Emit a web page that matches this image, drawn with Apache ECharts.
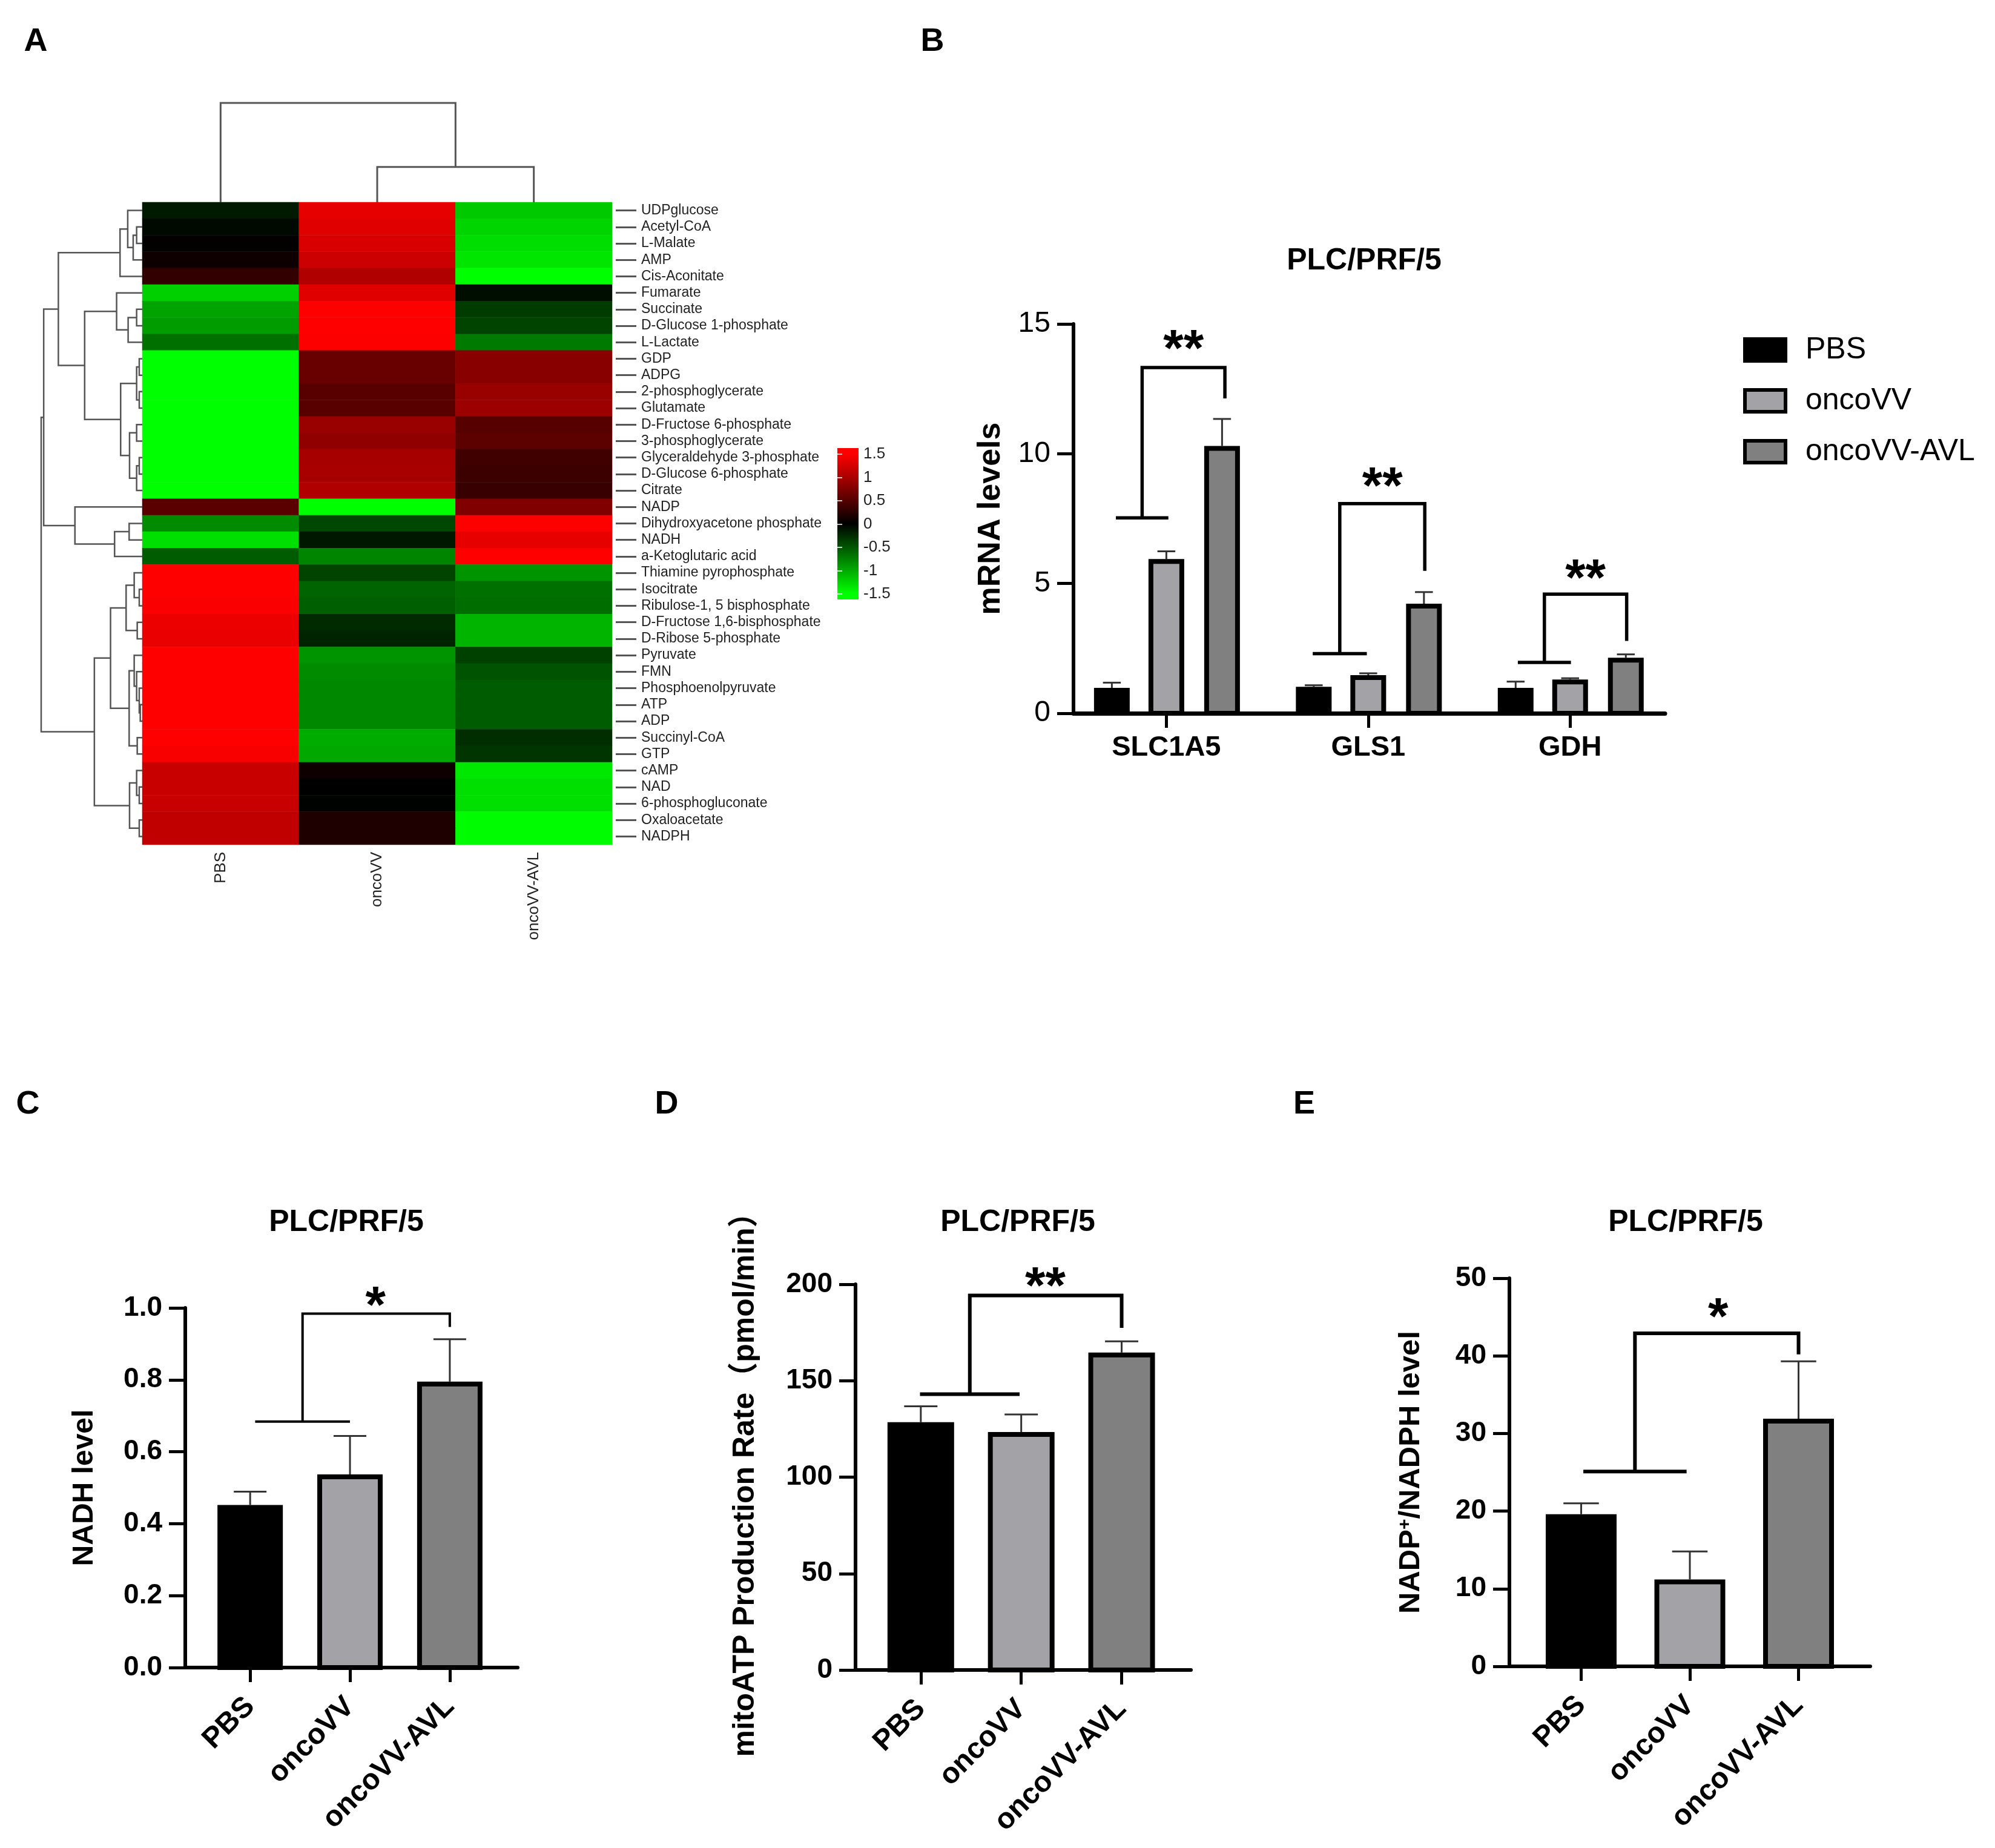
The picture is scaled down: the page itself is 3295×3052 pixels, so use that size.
<!DOCTYPE html>
<html>
<head>
<meta charset="utf-8">
<script src="https://cdn.jsdelivr.net/npm/echarts@6/dist/echarts.min.js"></script>
<style>
  html, body { margin: 0; background: #fff; }
  #main { width: 3295px; height: 3052px; }
</style>
</head>
<body>
<div id="main"></div>
<script>
var FONT = '"Liberation Sans", Arial, "Noto Sans CJK SC", sans-serif';

// ---- A: heatmap ----
var hmCols = ['PBS', 'oncoVV', 'oncoVV-AVL'];
var hmRows = ['UDPglucose', 'Acetyl-CoA', 'L-Malate', 'AMP', 'Cis-Aconitate', 'Fumarate', 'Succinate',
  'D-Glucose 1-phosphate', 'L-Lactate', 'GDP', 'ADPG', '2-phosphoglycerate', 'Glutamate',
  'D-Fructose 6-phosphate', '3-phosphoglycerate', 'Glyceraldehyde 3-phosphate', 'D-Glucose 6-phosphate',
  'Citrate', 'NADP', 'Dihydroxyacetone phosphate', 'NADH', 'a-Ketoglutaric acid', 'Thiamine pyrophosphate',
  'Isocitrate', 'Ribulose-1, 5 bisphosphate', 'D-Fructose 1,6-bisphosphate', 'D-Ribose 5-phosphate',
  'Pyruvate', 'FMN', 'Phosphoenolpyruvate', 'ATP', 'ADP', 'Succinyl-CoA', 'GTP', 'cAMP', 'NAD',
  '6-phosphogluconate', 'Oxaloacetate', 'NADPH'];
var hmPBS = [-0.15, -0.05, 0.02, 0.08, 0.3, -1.22, -0.96, -0.92, -0.66, -1.5, -1.5, -1.5, -1.5,
  -1.5, -1.5, -1.5, -1.5, -1.5, 0.53, -0.82, -1.32, -0.54, 1.5, 1.5, 1.47, 1.39, 1.38,
  1.5, 1.5, 1.5, 1.5, 1.5, 1.5, 1.46, 1.18, 1.18, 1.18, 1.13, 1.13];
var hmOncoVV = [1.35, 1.32, 1.27, 1.2, 1.04, 1.32, 1.5, 1.5, 1.48, 0.62, 0.61, 0.52, 0.52,
  0.9, 0.85, 0.98, 0.99, 1.04, -1.5, -0.42, -0.14, -0.78, -0.4, -0.59, -0.56, -0.25, -0.21,
  -0.87, -0.82, -0.8, -0.8, -0.8, -1.01, -0.99, 0.08, 0.0, -0.01, 0.18, 0.18];
var hmAVL = [-1.18, -1.25, -1.3, -1.35, -1.5, -0.08, -0.35, -0.4, -0.72, 0.8, 0.8, 0.9, 0.92,
  0.51, 0.55, 0.38, 0.35, 0.33, 0.75, 1.5, 1.36, 1.5, -0.87, -0.66, -0.64, -1.06, -1.06,
  -0.38, -0.49, -0.54, -0.54, -0.54, -0.27, -0.31, -1.36, -1.32, -1.32, -1.48, -1.48];
// hclust style merges: negative = leaf (row number), positive = earlier merge, then height
var rowMerges = [
  [-2, -3, 5.6], [1, -4, 9.0], [-1, 2, 14.4], [3, -5, 22.0],
  [-7, -8, 5.6], [5, -9, 14.0], [-6, 6, 25.4],
  [-10, -11, 3.0], [-12, -13, 3.0], [8, 9, 5.6], [-14, -15, 5.6], [-16, -17, 3.0], [12, -18, 5.6],
  [11, 13, 12.6], [10, 14, 21.4], [7, 15, 57.0], [4, 16, 83.0],
  [-20, -21, 13.0], [18, -22, 27.4], [-19, 19, 66.6],
  [-24, -25, 3.0], [-23, 21, 8.0], [-26, -27, 5.0], [22, 23, 16.0],
  [-31, -32, 2.0], [-30, 25, 3.0], [-29, 26, 5.6], [-28, 27, 8.0], [-33, -34, 5.0], [28, 29, 13.0], [24, 30, 31.4],
  [-36, -37, 3.0], [-35, 32, 5.6], [-38, -39, 3.0], [33, 34, 12.6], [31, 35, 47.4],
  [17, 20, 97.5], [37, 36, 100]
];
var colMerges = [[-2, -3, 27], [-1, 1, 76]];

// ---- B: mRNA ----
var bGenes = ['SLC1A5', 'GLS1', 'GDH'];
var bGroups = ['PBS', 'oncoVV', 'oncoVV-AVL'];
var bPBS = [0.98, 1.02, 0.98];
var bPBSErr = [0.2, 0.06, 0.24];
var bOnco = [5.94, 1.47, 1.3];
var bOncoErr = [0.3, 0.07, 0.05];
var bAVL = [10.3, 4.22, 2.14];
var bAVLErr = [1.04, 0.45, 0.13];
var bBrackets = [[-0.25, 0.01, 7.53, 13.32, 0.29, 12.13], [0.725, 0.993, 2.3, 8.08, 1.28, 5.49], [1.741, 2.004, 1.96, 4.59, 2.28, 2.79]];
var bStarText = ['**', '**', '**'];
var bStarPos = [[0.085, 14.49], [1.07, 9.19], [2.076, 5.65]];

// ---- C/D/E ----
var groups = ['PBS', 'oncoVV', 'oncoVV-AVL'];
var cMean = [0.452, 0.537, 0.795];
var cErr = [0.037, 0.107, 0.118];
var cBracket = [[0.05, 1.0, 0.684, 0.984, 2.0, 0.947]];
var cStarText = ['*'];
var cStarPos = [[1.256, 1.039]];
var dMean = [128.5, 123.4, 164.6];
var dErr = [8.2, 9.1, 5.8];
var dBracket = [[-0.008, 0.984, 143, 194.2, 2.0, 177.4]];
var dStarText = ['**'];
var dStarPos = [[1.24, 205]];
var eMean = [19.6, 11.2, 31.9];
var eErr = [1.4, 3.6, 7.4];
var eBracket = [[0.02, 0.97, 25.1, 42.9, 2.0, 40.2]];
var eStarText = ['*'];
var eStarPos = [[1.26, 46.5]];

var grpColors = ['#000000', '#a3a3a7', '#808080'];

function layoutTree(merges) {
  var nodes = [], segs = [];
  function child(ref) { return ref < 0 ? { pos: -ref, h: 0 } : nodes[ref - 1]; }
  merges.forEach(function (m) {
    var a = child(m[0]), b = child(m[1]);
    nodes.push({ pos: (a.pos + b.pos) / 2, h: m[2] });
    segs.push([a.h, a.pos, b.h, b.pos, m[2]]);
  });
  return segs;
}

function rowDendro(params, api) {
  var p1 = api.coord([api.value(0), api.value(1)]);
  var n1 = api.coord([api.value(4), api.value(1)]);
  var n2 = api.coord([api.value(4), api.value(3)]);
  var p2 = api.coord([api.value(2), api.value(3)]);
  return { type: 'polyline', shape: { points: [p1, n1, n2, p2] }, style: { stroke: '#555', lineWidth: 2.5, fill: null } };
}
function colDendro(params, api) {
  // x = position, y = height
  var p1 = api.coord([api.value(1), api.value(0)]);
  var n1 = api.coord([api.value(1), api.value(4)]);
  var n2 = api.coord([api.value(3), api.value(4)]);
  var p2 = api.coord([api.value(3), api.value(2)]);
  return { type: 'polyline', shape: { points: [p1, n1, n2, p2] }, style: { stroke: '#555', lineWidth: 3, fill: null } };
}

function barItem(bw, lw, offset, fills) {
  return function (params, api) {
    var x = api.value(0), v = api.value(1), e = api.value(2);
    var base = api.coord([x, 0]), top = api.coord([x, v]), et = api.coord([x, v + e]);
    var cx = base[0] + offset;
    var fill = fills[params.dataIndex % fills.length];
    return { type: 'group', children: [
      { type: 'line', shape: { x1: cx, y1: top[1], x2: cx, y2: et[1] }, style: { stroke: '#333', lineWidth: 3 } },
      { type: 'line', shape: { x1: cx - bw / 4, y1: et[1], x2: cx + bw / 4, y2: et[1] }, style: { stroke: '#333', lineWidth: 3 } },
      { type: 'rect', shape: { x: cx - (bw - lw) / 2, y: top[1] + lw / 2, width: bw - lw, height: base[1] - top[1] - lw / 2 },
        style: { fill: fill, stroke: '#000', lineWidth: lw } }
    ] };
  };
}

function bracketItem(lw) {
  return function (params, api) {
    var a = api.coord([api.value(0), api.value(2)]);
    var b = api.coord([api.value(1), api.value(2)]);
    var mid = api.coord([(api.value(0) + api.value(1)) / 2, api.value(3)]);
    var r = api.coord([api.value(4), api.value(5)]);
    return { type: 'group', children: [
      { type: 'line', shape: { x1: a[0], y1: a[1], x2: b[0], y2: b[1] }, style: { stroke: '#000', lineWidth: lw } },
      { type: 'polyline', shape: { points: [[mid[0], a[1]], [mid[0], mid[1]], [r[0], mid[1]], [r[0], r[1]]] },
        style: { stroke: '#000', lineWidth: lw, fill: null } }
    ] };
  };
}

function starItem(texts, size) {
  return function (params, api) {
    var p = api.coord([api.value(0), api.value(1)]);
    return { type: 'text', x: p[0], y: p[1] + size * 0.27,
      style: { text: texts[params.dataIndex], fontSize: size, fontWeight: 'bold', fontFamily: FONT, fill: '#000', align: 'center', verticalAlign: 'middle' } };
  };
}

var grids = [], xAxes = [], yAxes = [], series = [];

// grid 0 heatmap
grids.push({ left: 235, top: 334, width: 776, height: 1061 });
xAxes.push({ gridIndex: 0, type: 'category', data: hmCols, axisLine: { show: false }, axisTick: { show: false },
  axisLabel: { rotate: 90, margin: 12, interval: 0, fontSize: 26, color: '#222', fontFamily: FONT }, splitLine: { show: false } });
yAxes.push({ gridIndex: 0, type: 'category', data: hmRows, inverse: true, position: 'right', offset: 6,
  axisLine: { show: false },
  axisTick: { show: true, alignWithLabel: true, interval: 0, length: 34, lineStyle: { color: '#555', width: 3 } },
  axisLabel: { interval: 0, margin: 42, fontSize: 23, color: '#222', fontFamily: FONT } });
var heatData = [];
hmRows.forEach(function (r, i) {
  heatData.push([0, i, hmPBS[i]], [1, i, hmOncoVV[i]], [2, i, hmAVL[i]]);
});
series.push({ type: 'heatmap', xAxisIndex: 0, yAxisIndex: 0, data: heatData, itemStyle: { borderWidth: 0 }, emphasis: { disabled: true } });

// grid 1 row dendrogram
grids.push({ left: 68, top: 334, width: 167, height: 1061 });
xAxes.push({ gridIndex: 1, type: 'value', min: 0, max: 100, inverse: true, show: false });
yAxes.push({ gridIndex: 1, type: 'value', min: 0.5, max: 39.5, inverse: true, show: false });
series.push({ type: 'custom', xAxisIndex: 1, yAxisIndex: 1, data: layoutTree(rowMerges), renderItem: rowDendro, silent: true });

// grid 2 column dendrogram
grids.push({ left: 235, top: 170, width: 776, height: 164 });
xAxes.push({ gridIndex: 2, type: 'value', min: 0.5, max: 3.5, show: false });
yAxes.push({ gridIndex: 2, type: 'value', min: 0, max: 76, show: false });
series.push({ type: 'custom', xAxisIndex: 2, yAxisIndex: 2, data: layoutTree(colMerges), renderItem: colDendro, silent: true,
  encode: { x: 1, y: 0 } });

// grid 3 colour key
grids.push({ left: 1383, top: 750, width: 35, height: 231 });
xAxes.push({ gridIndex: 3, type: 'value', show: false, min: 0, max: 1 });
var keyTick = { show: true, inside: true, length: 8, lineStyle: { color: 'rgba(255,255,255,0.75)', width: 2 } };
yAxes.push({ gridIndex: 3, type: 'value', min: -1.5, max: 1.5, interval: 0.5, position: 'right', z: 10,
  axisLine: { show: false }, axisTick: keyTick, splitLine: { show: false },
  axisLabel: { margin: 8, fontSize: 26, color: '#222', fontFamily: FONT } });
yAxes.push({ gridIndex: 3, type: 'value', min: -1.5, max: 1.5, interval: 0.5, position: 'left', z: 10,
  axisLine: { show: false }, axisTick: keyTick, splitLine: { show: false }, axisLabel: { show: false } });

function barAxes(gi, xmin, xmax, ymax, yint, yName, nameGap, nameStyle, labelFmt, xLabel) {
  xAxes.push({ gridIndex: gi, type: 'value', min: xmin, max: xmax,
    axisLine: { show: true, onZero: false, lineStyle: { color: '#000', width: 6 } },
    axisTick: { show: true, customValues: [0, 1, 2], length: 24, lineStyle: { color: '#000', width: 5 } },
    axisLabel: xLabel, splitLine: { show: false } });
  yAxes.push({ gridIndex: gi, type: 'value', min: 0, max: ymax, interval: yint,
    axisLine: { show: true, onZero: false, lineStyle: { color: '#000', width: 6 } },
    axisTick: { show: true, length: 27, lineStyle: { color: '#000', width: 5 } },
    axisLabel: { margin: 38, fontSize: 46, fontWeight: 'bold', color: '#000', fontFamily: FONT, formatter: labelFmt },
    splitLine: { show: false },
    name: yName, nameLocation: 'middle', nameRotate: 90, nameGap: nameGap, nameTextStyle: nameStyle });
}
function rotLabel(names) {
  return { customValues: [0, 1, 2], rotate: 45, margin: 57, fontSize: 48, fontWeight: 'bold', color: '#000', fontFamily: FONT,
    formatter: function (v) { return names[Math.round(v)]; } };
}
var nameBold = { fontSize: 48, fontWeight: 'bold', color: '#000', fontFamily: FONT };

// grid 4 panel B
grids.push({ left: 1773, top: 535, width: 977, height: 643 });
barAxes(4, -0.46, 2.47, 15, 5, 'mRNA levels', 110, { fontSize: 52, fontWeight: 'bold', color: '#000', fontFamily: FONT }, null,
  { customValues: [0, 1, 2], margin: 34, fontSize: 47, fontWeight: 'bold', color: '#000', fontFamily: FONT,
    formatter: function (v) { return bGenes[Math.round(v)]; } });
xAxes[4].axisLine.lineStyle.width = 7;
yAxes[5].axisLabel.fontWeight = 'normal';
yAxes[5].axisLabel.fontSize = 48;
var bMeans = [bPBS, bOnco, bAVL], bErrs = [bPBSErr, bOncoErr, bAVLErr], bOffsets = [-90, 0, 92];
bGroups.forEach(function (g, k) {
  series.push({ type: 'custom', name: g, xAxisIndex: 4, yAxisIndex: 5,
    itemStyle: { color: grpColors[k], borderColor: '#000', borderWidth: 6 },
    data: bGenes.map(function (n, i) { return [i, bMeans[k][i], bErrs[k][i]]; }),
    renderItem: barItem(59, 8, bOffsets[k], [grpColors[k]]) });
});
series.push({ type: 'custom', xAxisIndex: 4, yAxisIndex: 5, data: bBrackets, renderItem: bracketItem(5.5), silent: true });
series.push({ type: 'custom', xAxisIndex: 4, yAxisIndex: 5, data: bStarPos, renderItem: starItem(bStarText, 86), silent: true });

// grid 5 panel C
grids.push({ left: 306, top: 2160, width: 549, height: 594 });
barAxes(5, -0.65, 2.68, 1, 0.2, 'NADH level', 142, nameBold, function (v) { return v.toFixed(1); }, rotLabel(groups));
series.push({ type: 'custom', xAxisIndex: 5, yAxisIndex: 6, data: groups.map(function (g, i) { return [i, cMean[i], cErr[i]]; }),
  renderItem: barItem(108, 8, 0, grpColors) });
series.push({ type: 'custom', xAxisIndex: 5, yAxisIndex: 6, data: cBracket, renderItem: bracketItem(4), silent: true });
series.push({ type: 'custom', xAxisIndex: 5, yAxisIndex: 6, data: cStarPos, renderItem: starItem(cStarText, 86), silent: true });

// grid 6 panel D
grids.push({ left: 1413, top: 2121, width: 554, height: 637 });
barAxes(6, -0.65, 2.69, 200, 50, 'mitoATP Production Rate（pmol/min）', 157,
  { fontSize: 50, fontWeight: 'bold', color: '#000', fontFamily: FONT }, null, rotLabel(groups));
series.push({ type: 'custom', xAxisIndex: 6, yAxisIndex: 7, data: groups.map(function (g, i) { return [i, dMean[i], dErr[i]]; }),
  renderItem: barItem(110, 8, 0, grpColors) });
series.push({ type: 'custom', xAxisIndex: 6, yAxisIndex: 7, data: dBracket, renderItem: bracketItem(6), silent: true });
series.push({ type: 'custom', xAxisIndex: 6, yAxisIndex: 7, data: dStarPos, renderItem: starItem(dStarText, 86), silent: true });

// grid 7 panel E
grids.push({ left: 2493, top: 2111, width: 596, height: 641 });
barAxes(7, -0.66, 2.66, 50, 10, '{t|NADP}{s|+}{t|/NADPH level}', 138,
  { rich: { t: { fontSize: 49, fontWeight: 'bold', color: '#000', fontFamily: FONT },
            s: { fontSize: 30, fontWeight: 'bold', color: '#000', fontFamily: FONT, verticalAlign: 'top' } } },
  null, rotLabel(groups));
series.push({ type: 'custom', xAxisIndex: 7, yAxisIndex: 8, data: groups.map(function (g, i) { return [i, eMean[i], eErr[i]]; }),
  renderItem: barItem(117, 8, 0, grpColors) });
series.push({ type: 'custom', xAxisIndex: 7, yAxisIndex: 8, data: eBracket, renderItem: bracketItem(6), silent: true });
series.push({ type: 'custom', xAxisIndex: 7, yAxisIndex: 8, data: eStarPos, renderItem: starItem(eStarText, 86), silent: true });

function label(text, x, y, size) {
  return { type: 'text', x: x, y: y, z: 20,
    style: { text: text, fontSize: size, fontWeight: 'bold', fontFamily: FONT, fill: '#000', align: 'center', verticalAlign: 'middle' } };
}

var chart = echarts.init(document.getElementById('main'));
chart.setOption({
  backgroundColor: '#fff',
  animation: false,
  grid: grids,
  xAxis: xAxes,
  yAxis: yAxes,
  visualMap: [{ type: 'continuous', show: false, seriesIndex: 0, dimension: 2, min: -1.5, max: 1.5,
    inRange: { color: ['#00ff00', '#000000', '#ff0000'] } }],
  legend: { orient: 'vertical', left: 2879, top: 553, padding: 0, itemWidth: 67, itemHeight: 36, itemGap: 34,
    textStyle: { fontSize: 50, color: '#000', fontFamily: FONT, padding: [0, 0, 0, 28] },
    data: bGroups.map(function (g, k) {
      return { name: g, icon: 'rect', itemStyle: { color: grpColors[k], borderColor: '#000', borderWidth: 6 } };
    }) },
  graphic: [
    { type: 'rect', z: 0, shape: { x: 1383, y: 740, width: 35, height: 250 },
      style: { fill: new echarts.graphic.LinearGradient(0, 0, 0, 1, [
        { offset: 0.04, color: '#ff0000' }, { offset: 0.5, color: '#000000' }, { offset: 0.96, color: '#00ff00' }]) } },
    label('A', 59, 69, 54), label('B', 1540, 69, 54), label('C', 46, 1824, 54), label('D', 1101, 1824, 54), label('E', 2154, 1824, 54),
    label('PLC/PRF/5', 2253, 431, 50), label('PLC/PRF/5', 572, 2019, 50), label('PLC/PRF/5', 1681, 2019, 50), label('PLC/PRF/5', 2784, 2019, 50)
  ],
  series: series
});
</script>
</body>
</html>
